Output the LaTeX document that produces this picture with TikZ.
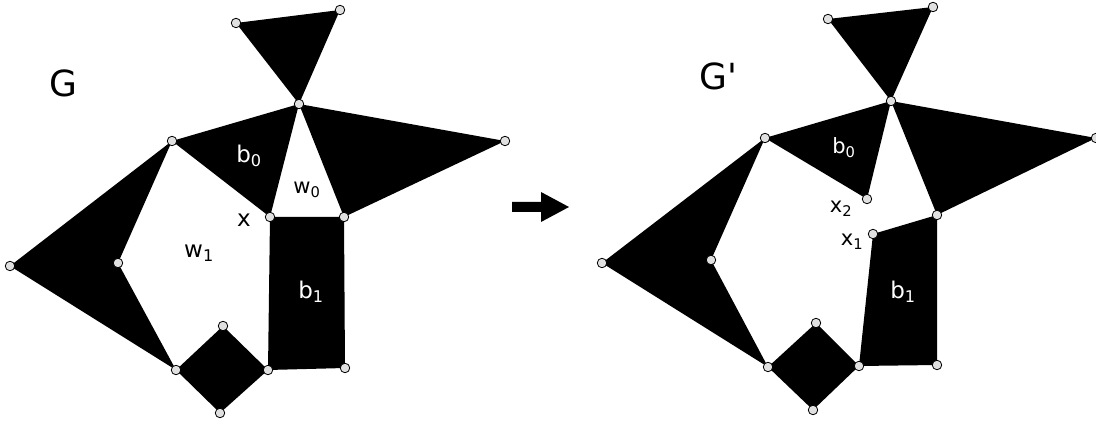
\documentclass[tikz,border=0pt]{standalone}
\usepackage{fontspec}
\setmainfont{DejaVu Sans}
\newfontfamily\plainfont{DejaVu Sans}[Ligatures=TeXOff]
\usepackage{tikz}

\tikzset{
  vtx/.style={draw, fill=black!12, circle, inner sep=0pt, minimum size=9.5pt, line width=0.8pt},
  lbl/.style={inner sep=0pt, font=\fontsize{23}{26}\selectfont},
  sml/.style={inner sep=0pt, font=\fontsize{21}{24}\selectfont},
}

\begin{document}
\begin{tikzpicture}[x=1pt, y=-1pt]
\useasboundingbox (0,0) rectangle (1096,422);

% G
\coordinate (a1) at (236,23);
\coordinate (a2) at (340,10);
\coordinate (h) at (299,104);
\coordinate (l) at (172,141);
\coordinate (x) at (270,217);
\coordinate (r) at (505,141);
\coordinate (p) at (344,217);
\coordinate (f) at (10,266);
\coordinate (v) at (118,263);
\coordinate (bl) at (176,370);
\coordinate (dt) at (223,326);
\coordinate (dr) at (268,370);
\coordinate (db) at (220,413);
\coordinate (q) at (345,368);

\fill (a1)--(a2)--(h)--cycle;
\fill (l)--(h)--(x)--cycle;
\fill (h)--(r)--(p)--cycle;
\fill (l)--(f)--(bl)--(v)--cycle;
\fill (bl)--(dt)--(dr)--(db)--cycle;
\fill (x)--(p)--(q)--(dr)--cycle;

\foreach \n in {a1,a2,h,l,x,r,p,f,v,bl,dt,dr,db,q}
  \node [vtx] (\n-v) at (\n) {};

\node [inner sep=0pt, font=\fontsize{36}{40}\selectfont] (g) at (63,83) {G};
\node [lbl, white] (b0) at (249,156) {b\textsubscript{0}};
\node [sml] (w0) at (307,190) {w\textsubscript{0}};
\node [lbl] (xl) at (244,220) {x};
\node [lbl] (w1) at (199,253) {w\textsubscript{1}};
\node [lbl, white] (b1) at (311,292) {b\textsubscript{1}};

% arrow
\fill (512,202)--(541,202)--(541,192)--(569,207)--(541,222)--(541,212)--(512,212)--cycle;

% G'
\coordinate (a1') at (828,19);
\coordinate (a2') at (933,7);
\coordinate (h') at (891,101);
\coordinate (l') at (765,138);
\coordinate (x2') at (867,199);
\coordinate (r') at (1096,138);
\coordinate (p') at (937,215);
\coordinate (x1') at (873,234);
\coordinate (f') at (602,263);
\coordinate (v') at (711,260);
\coordinate (bl') at (768,367);
\coordinate (dt') at (816,323);
\coordinate (dr') at (859,366);
\coordinate (db') at (813,410);
\coordinate (q') at (937,365);

\fill (a1')--(a2')--(h')--cycle;
\fill (l')--(h')--(x2')--cycle;
\fill (h')--(r')--(p')--cycle;
\fill (l')--(f')--(bl')--(v')--cycle;
\fill (bl')--(dt')--(dr')--(db')--cycle;
\fill (x1')--(p')--(q')--(dr')--cycle;

\foreach \n in {a1',a2',h',l',x2',r',p',x1',f',v',bl',dt',dr',db',q'}
  \node [vtx] (\n-v) at (\n) {};

\node [inner sep=0pt, font=\plainfont\fontsize{36}{40}\selectfont] (g') at (718,76) {G'};
\node [sml, white] (b0') at (844,148) {b\textsubscript{0}};
\node [sml] (x2l) at (841,209) {x\textsubscript{2}};
\node [sml] (x1l) at (852,242) {x\textsubscript{1}};
\node [lbl, white] (b1') at (903,292) {b\textsubscript{1}};
\end{tikzpicture}
\end{document}
